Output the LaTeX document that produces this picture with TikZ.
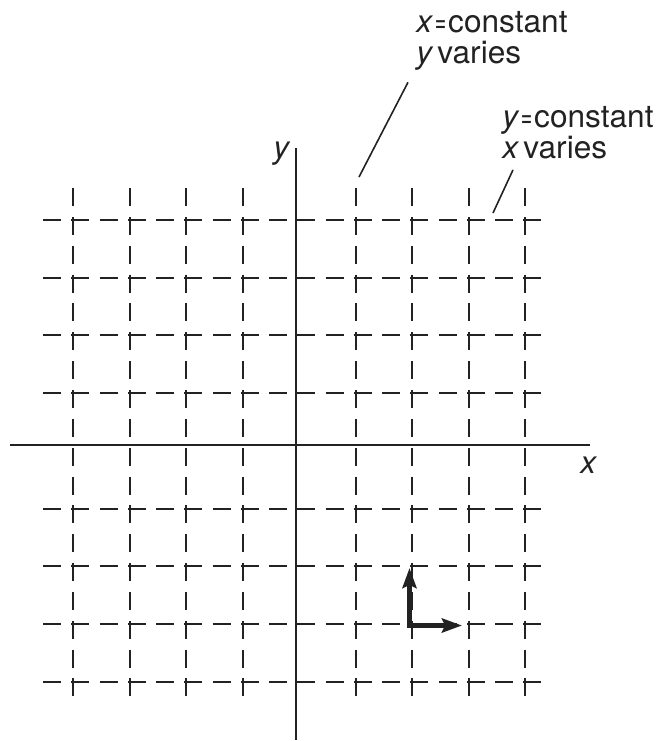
\documentclass[tikz,border=0pt]{standalone}
\usepackage{fontspec}
\setmainfont{TeX Gyre Heros}
\usepackage{graphicx}
\usepackage{tikz}
\usetikzlibrary{arrows.meta,calc}
\usepackage{xcolor}
\definecolor{ink}{HTML}{222222}
\newcommand{\nareq}{\kern1.3pt\scalebox{0.62}[1]{=}\kern1pt}

\begin{document}
\begin{tikzpicture}[
  x=0.5pt, y=-0.5pt,
  gridline/.style={draw=ink, line width=1pt},
  hdash/.style={gridline, dash pattern=on 9pt off 5.125pt},
  vdash/.style={gridline, dash pattern=on 9pt off 5.425pt},
  axis/.style={draw=ink, line width=1pt},
  leader/.style={draw=ink, line width=0.8pt},
  vec/.style={{Stealth[length=10pt,width=7pt,inset=1.5pt]}-{Stealth[length=10pt,width=7pt,inset=1.5pt]}, draw=ink, line width=2.5pt, line join=miter},
  note/.style={inner sep=0pt, align=left, text=ink, font=\fontsize{15.8}{15.5}\selectfont},
]
  \useasboundingbox (0,0) rectangle (658,741);
  \foreach \j in {0,...,3,5,6,7,8}
    \draw[hdash] (43,220+57.7*\j) -- (546,220+57.7*\j);
  \foreach \i in {0,...,3,5,6,7,8}
    \draw[vdash] (73+56.5*\i,188) -- (73+56.5*\i,700);
  \draw[axis] (10,445) -- (590,445);
  \draw[axis] (296,148) -- (296,740);
  \node[note, anchor=base west] (xlab) at (580,473) {\itshape x};
  \node[note, anchor=base west] (ylab) at (273,158) {\itshape y};
  \node[note, anchor=base west] (xconst) at (416,63) {{\itshape x}\nareq constant\\{\itshape y}\,varies};
  \node[note, anchor=base west] (yconst) at (502,158) {{\itshape y}\nareq constant\\{\itshape x}\,varies};
  \coordinate (xtip) at (359,177);
  \coordinate (ytip) at (493,213);
  \draw[leader] ($(xconst.south west)+(-8,12)$) -- (xtip);
  \draw[leader] ($(yconst.south west)+(11,11)$) -- (ytip);
  \coordinate (corner) at (409.5,625.5);
  \coordinate (ex) at (462,625.5);
  \coordinate (ey) at (409.5,568);
  \draw[vec] (ey) -- (corner) -- (ex);
\end{tikzpicture}
\end{document}
